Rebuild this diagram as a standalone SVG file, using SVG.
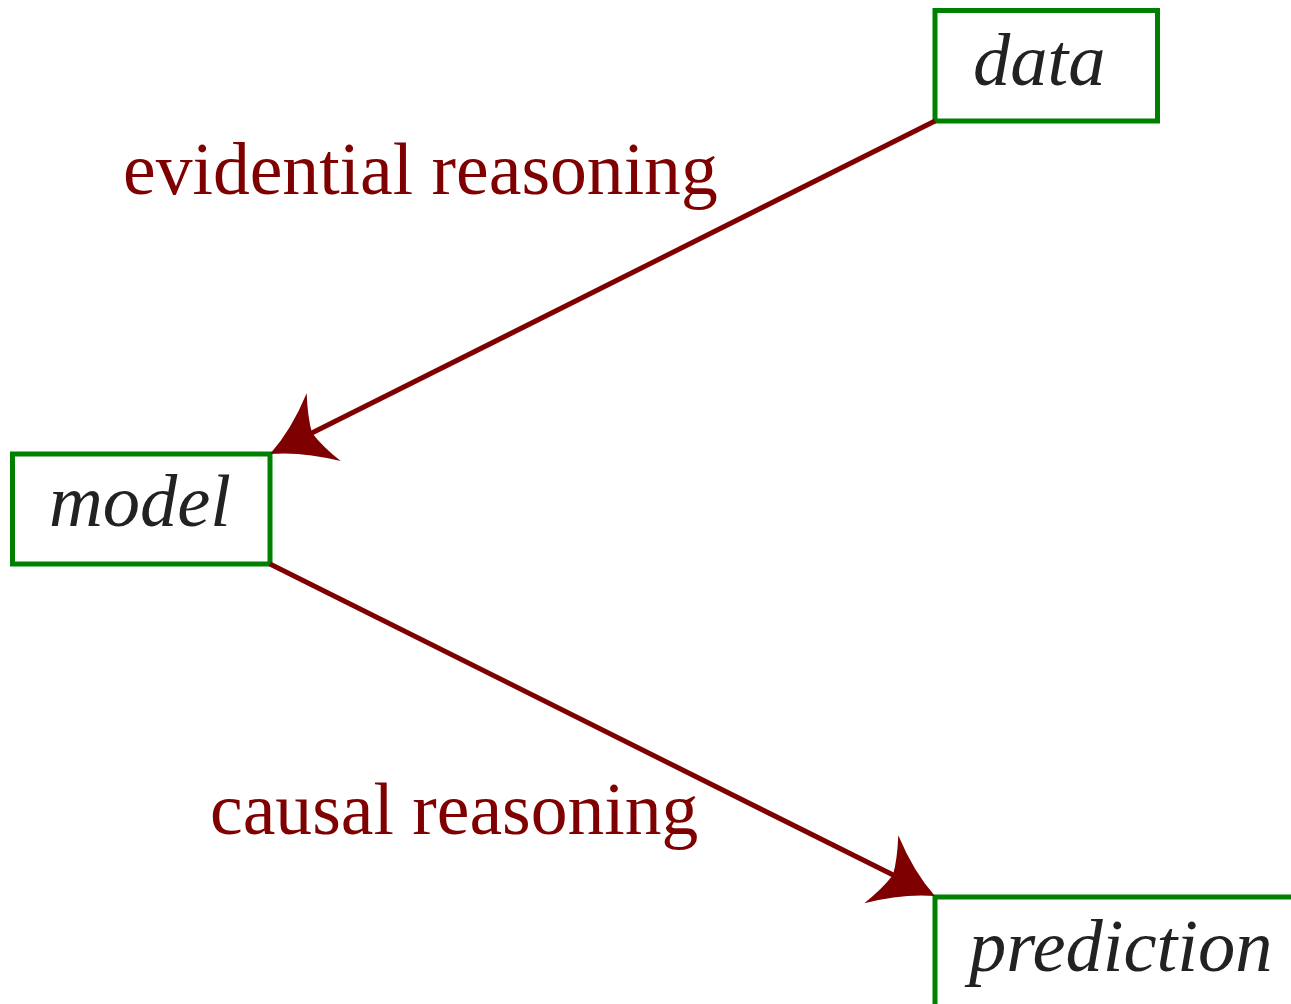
<svg xmlns="http://www.w3.org/2000/svg" width="1291" height="1004" viewBox="0 0 1291 1004">
<style>
.box{fill:#ffffff;stroke:#008000;stroke-width:5}
.node{font-family:"Liberation Serif","Times New Roman",serif;font-style:italic;font-size:74.5px;fill:#222222}
.lbl{font-family:"Liberation Serif","Times New Roman",serif;font-size:73.6px;fill:#7f0000}
.edge{fill:none;stroke:#7f0000;stroke-width:5}
</style>
<defs>
<marker id="stealth" markerUnits="userSpaceOnUse" markerWidth="70" markerHeight="90" viewBox="0 -45 70 90" refX="20" refY="0" orient="auto" overflow="visible">
<path d="M60,0 Q30,-12 0,-38 Q10,-16 13,0 Q10,16 0,38 Q30,12 60,0 Z" fill="#7f0000"/>
</marker>
</defs>
<rect width="1291" height="1004" fill="#ffffff"/>
<g id="node-data">
<rect class="box" x="935" y="10.5" width="222.5" height="110.5"/>
<text class="node" x="973" y="85">data</text>
</g>
<g id="node-model">
<rect class="box" x="12.5" y="454" width="257.5" height="110"/>
<text class="node" x="49" y="526">model</text>
</g>
<g id="node-prediction">
<rect class="box" x="935" y="897" width="400" height="150"/>
<text class="node" x="969" y="971">prediction</text>
</g>
<g id="connectors">
<line class="edge" x1="935" y1="121" x2="305.8" y2="436.1" marker-end="url(#stealth)"/>
<line class="edge" x1="270" y1="564" x2="899.2" y2="878.1" marker-end="url(#stealth)"/>
<text class="lbl" x="123" y="194">evidential reasoning</text>
<text class="lbl" x="210" y="834">causal reasoning</text>
</g>
</svg>
